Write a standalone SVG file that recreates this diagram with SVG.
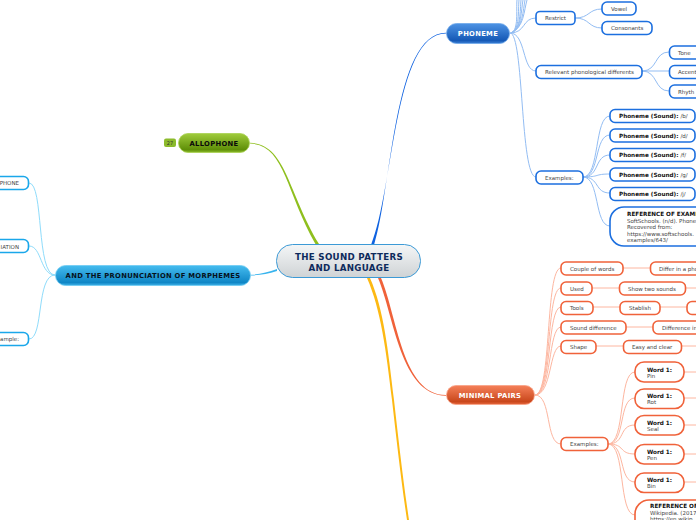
<svg xmlns="http://www.w3.org/2000/svg" width="696" height="520" viewBox="0 0 696 520">
<style>
text{font-family:"DejaVu Sans",sans-serif}
.n{fill:#fff;stroke-width:1.6}
.b rect.n{stroke:#1c6fdf}
.o rect.n{stroke:#f0623a}
.c rect.n{stroke:#1aa7ea}
.t{font-size:5.500px;fill:#444}
.s{font-size:5.700px;fill:#111;font-weight:bold}
.m{font-size:6.800px;font-weight:bold;text-anchor:middle;letter-spacing:.3px}
.lb{fill:none;stroke:#93bdf3;stroke-width:1}
.lo{fill:none;stroke:#fdb6a0;stroke-width:1}
.lc{fill:none;stroke:#8fdcfb;stroke-width:1}
</style>
<defs>
<linearGradient id="gb" x1="0" y1="0" x2="0" y2="1"><stop offset="0" stop-color="#4d93e4"/><stop offset=".85" stop-color="#1559b6"/><stop offset="1" stop-color="#3b7fd4"/></linearGradient>
<linearGradient id="go" x1="0" y1="0" x2="0" y2="1"><stop offset="0" stop-color="#f58059"/><stop offset=".85" stop-color="#c9471c"/><stop offset="1" stop-color="#e8693f"/></linearGradient>
<linearGradient id="gc" x1="0" y1="0" x2="0" y2="1"><stop offset="0" stop-color="#45bcef"/><stop offset=".85" stop-color="#0f86c6"/><stop offset="1" stop-color="#3fb2e8"/></linearGradient>
<linearGradient id="gg" x1="0" y1="0" x2="0" y2="1"><stop offset="0" stop-color="#a0cc3c"/><stop offset=".85" stop-color="#5f8f08"/><stop offset="1" stop-color="#8cbb2c"/></linearGradient>
<linearGradient id="gm" x1="0" y1="0" x2="0" y2="1"><stop offset="0" stop-color="#f4f6f7"/><stop offset="1" stop-color="#cfd3d5"/></linearGradient>
</defs>
<g id="connectors">
<path d="M371 245C394 190 394 33 446 33.500L446 32.800C393 33 392 190 374 245Z" fill="#0f62e0"/>
<path d="M316 245C285 190 285 145 250 143.500L250 142.800C286 144 287 190 319 244Z" fill="#8fbf1e"/>
<path d="M277 271C268 274 260 275 251 275.500L251 274.800C260 274.500 268 272 277 269Z" fill="#38b4ee"/>
<path d="M378 278C394 315 400 395 446 395.800L446 395.100C402 395 397 315 381 278Z" fill="#f0623a"/>
<path d="M367 278C381 310 386 350 392 400C396 435 401 480 407 520L409 520C403 480 398 435 394 400C388 350 384 310 370 278Z" fill="#fdb913"/>
<path class="lb" d="M511 33C519 30 516 10 517 0M511 33C520 30 518 10 519 0M511 33C521 30 520 10 521 0M511 33C522 29 521 10 523 0M511 33C523 28 523 10 525 0M511 33C524 28 524 10 527 0"/>
<path class="lb" d="M510 33C526 33 522 18 536 18M575 18C590 18 588 9 602 9M575 18C590 18 588 28 602 28M510 33C526 33 522 71 536 71M642 71C658 71 654 52 669 52M642 71H669M642 71C658 71 654 91 669 91M510 33C524 33 520 177 536 177"/>
<path class="lb" d="M583 177C600 177 594 116 610 116M583 177C600 177 594 135 610 135M583 177C600 177 594 155 610 155M583 177C600 177 594 174 610 174M583 177C600 177 594 193 610 193M583 177C600 177 594 226 610 226"/>
<path class="lo" d="M535 395C552 395 545 268 561 268M535 395C552 395 546 288 561 288M535 395C552 395 547 307 561 307M535 395C552 395 548 327 561 327M535 395C552 395 549 346 561 346M535 395C552 395 545 444 561 444"/>
<path class="lo" d="M623 268H650M592 288H619M686 288H696M593 307H620M660 307H687M626 327H653M596 346H623M682 346H696"/>
<path class="lo" d="M608 444C626 444 618 372 635 372M608 444C626 444 618 398 635 398M608 444C626 444 618 425 635 425M608 444C626 444 618 454 635 454M608 444C626 444 618 482 635 482M608 444C626 444 618 515 635 515M684 372H696M684 398H696M684 425H696M684 454H696M684 482H696"/>
<path class="lc" d="M29 183C44 183 36 275 55 275M29 246C42 246 40 275 55 275M29 339C44 339 36 275 55 275"/>
</g>
<g id="central"><rect x="276.500" y="244.500" width="144" height="33" rx="16" fill="url(#gm)" stroke="#3c9ad6"/><text x="349" y="259.500" text-anchor="middle" font-size="8.700" font-weight="bold" fill="#0e2a5c" letter-spacing=".3">THE SOUND PATTERS</text><text x="349" y="270.500" text-anchor="middle" font-size="8.700" font-weight="bold" fill="#0e2a5c" letter-spacing=".3">AND LANGUAGE</text></g>
<g id="phoneme"><rect x="446.500" y="23.500" width="63" height="20" rx="10" fill="url(#gb)" stroke="#6fa8ea" stroke-width=".8"/><text class="m" x="478" y="36" fill="#fff">PHONEME</text></g>
<g id="allophone"><rect x="164" y="138.500" width="12" height="8.500" rx="2" fill="#8cbb2c"/><text x="170" y="145" text-anchor="middle" font-size="5" fill="#333">27</text><rect x="178.500" y="133.500" width="71" height="19" rx="9.500" fill="url(#gg)" stroke="#a8d050" stroke-width=".8"/><text class="m" x="214" y="146" fill="#0a0a0a">ALLOPHONE</text></g>
<g id="morphemes"><rect x="55.500" y="265.500" width="195" height="20" rx="10" fill="url(#gc)" stroke="#6ecbf3" stroke-width=".8"/><text class="m" x="153" y="278" fill="#06121c">AND THE PRONUNCIATION OF MORPHEMES</text></g>
<g id="minimal"><rect x="446.500" y="385.500" width="88" height="19" rx="9.500" fill="url(#go)" stroke="#f9a286" stroke-width=".8"/><text class="m" x="490" y="398" fill="#fff">MINIMAL PAIRS</text></g>
<g class="b">
<g id="restrict"><rect class="n" x="536" y="11.500" width="39" height="13" rx="4"/><text class="t" x="545" y="20">Restrict</text></g>
<g id="vowel"><rect class="n" x="602" y="2" width="34" height="13" rx="5"/><text class="t" x="611" y="11">Vowel</text></g>
<g id="consonants"><rect class="n" x="602" y="21.500" width="50" height="13" rx="5"/><text class="t" x="611" y="30">Consonants</text></g>
<g id="relevant"><rect class="n" x="536" y="65.500" width="106" height="13" rx="5"/><text class="t" x="545" y="74">Relevant phonological differents</text></g>
<g id="tone"><rect class="n" x="669.500" y="46" width="40" height="13" rx="5"/><text class="t" x="678" y="55">Tone</text></g>
<g id="accent"><rect class="n" x="669.500" y="65.500" width="40" height="13" rx="5"/><text class="t" x="678" y="74">Accent</text></g>
<g id="rhythm"><rect class="n" x="669.500" y="85" width="40" height="13" rx="5"/><text class="t" x="678" y="94">Rhyth</text></g>
<g id="examples1"><rect class="n" x="536" y="171" width="47" height="13" rx="5"/><text class="t" x="545" y="180">Examples:</text></g>
<g id="p1"><rect class="n" x="610" y="109.500" width="85" height="13" rx="5"/><text class="s" x="619" y="118">Phoneme (Sound): <tspan class="t" font-weight="normal">/b/</tspan></text></g>
<g id="p2"><rect class="n" x="610" y="129" width="85" height="13" rx="5"/><text class="s" x="619" y="138">Phoneme (Sound): <tspan class="t" font-weight="normal">/d/</tspan></text></g>
<g id="p3"><rect class="n" x="610" y="148.500" width="85" height="13" rx="5"/><text class="s" x="619" y="157">Phoneme (Sound): <tspan class="t" font-weight="normal">/f/</tspan></text></g>
<g id="p4"><rect class="n" x="610" y="168" width="85" height="13" rx="5"/><text class="s" x="619" y="177">Phoneme (Sound): <tspan class="t" font-weight="normal">/g/</tspan></text></g>
<g id="p5"><rect class="n" x="610" y="187.500" width="85" height="13" rx="5"/><text class="s" x="619" y="196">Phoneme (Sound): <tspan class="t" font-weight="normal">/j/</tspan></text></g>
<g id="ref1"><rect class="n" x="610" y="207" width="110" height="39" rx="14"/><text class="s" x="627" y="216">REFERENCE OF EXAMP</text><text class="t" x="627" y="222.500">SoftSchools. (n/d). Phone</text><text class="t" x="627" y="229">Recovered from:</text><text class="t" x="627" y="235.500">https://www.softschools.</text><text class="t" x="627" y="242">examples/643/</text></g>
</g>
<g class="o">
<g id="couple"><rect class="n" x="561" y="262" width="62" height="13" rx="5"/><text class="t" x="570" y="271">Couple of words</text></g>
<g id="differ"><rect class="n" x="650.500" y="262" width="70" height="13" rx="5"/><text class="t" x="659" y="271">Differ in a pho</text></g>
<g id="used"><rect class="n" x="561" y="282" width="31" height="13" rx="5"/><text class="t" x="570" y="291">Used</text></g>
<g id="show"><rect class="n" x="619.500" y="282" width="66" height="13" rx="5"/><text class="t" x="628" y="291">Show two sounds</text></g>
<g id="tools"><rect class="n" x="561" y="301.500" width="32" height="13" rx="5"/><text class="t" x="570" y="310">Tools</text></g>
<g id="stablish"><rect class="n" x="620" y="301.500" width="40" height="13" rx="5"/><text class="t" x="629" y="310">Stablish</text></g>
<g id="tools2"><rect class="n" x="687" y="301.500" width="40" height="13" rx="5"/></g>
<g id="sound"><rect class="n" x="561" y="321" width="65" height="13" rx="5"/><text class="t" x="570" y="330">Sound difference</text></g>
<g id="difference"><rect class="n" x="653" y="321" width="70" height="13" rx="5"/><text class="t" x="662" y="330">Difference in</text></g>
<g id="shape"><rect class="n" x="561" y="340.500" width="35" height="13" rx="5"/><text class="t" x="570" y="349">Shape</text></g>
<g id="easy"><rect class="n" x="623.500" y="340.500" width="58" height="13" rx="5"/><text class="t" x="632" y="349">Easy and clear</text></g>
<g id="examples2"><rect class="n" x="561" y="437.500" width="47" height="13" rx="5"/><text class="t" x="570" y="446">Examples:</text></g>
<g id="w1"><rect class="n" x="635" y="362" width="49" height="20" rx="9"/><text class="s" x="647" y="371.500">Word 1:</text><text class="t" x="647" y="378">Pin</text></g>
<g id="w2"><rect class="n" x="635" y="389" width="49" height="19.500" rx="9"/><text class="s" x="647" y="398">Word 1:</text><text class="t" x="647" y="404">Rot</text></g>
<g id="w3"><rect class="n" x="635" y="415.500" width="49" height="19.500" rx="9"/><text class="s" x="647" y="424.500">Word 1:</text><text class="t" x="647" y="431">Seal</text></g>
<g id="w4"><rect class="n" x="635" y="444.500" width="49" height="19.500" rx="9"/><text class="s" x="647" y="453.500">Word 1:</text><text class="t" x="647" y="460">Pen</text></g>
<g id="w5"><rect class="n" x="635" y="473" width="49" height="19.500" rx="9"/><text class="s" x="647" y="482">Word 1:</text><text class="t" x="647" y="488">Bin</text></g>
<g id="ref2"><rect class="n" x="635" y="500" width="110" height="40" rx="14"/><text class="s" x="650" y="508">REFERENCE OF</text><text class="t" x="650" y="515">Wikipedia. (2017</text><text class="t" x="650" y="521">https://en.wikip</text></g>
</g>
<g class="c">
<g id="c1"><rect class="n" x="-30" y="176.500" width="58.500" height="13" rx="5"/><text class="t" x="19" y="185" text-anchor="end">PHONE</text></g>
<g id="c2"><rect class="n" x="-30" y="239.500" width="58.500" height="13" rx="5"/><text class="t" x="19" y="249" text-anchor="end">IATION</text></g>
<g id="c3"><rect class="n" x="-30" y="332.500" width="58.500" height="13" rx="5"/><text class="t" x="19" y="341" text-anchor="end">ample:</text></g>
</g>
</svg>
